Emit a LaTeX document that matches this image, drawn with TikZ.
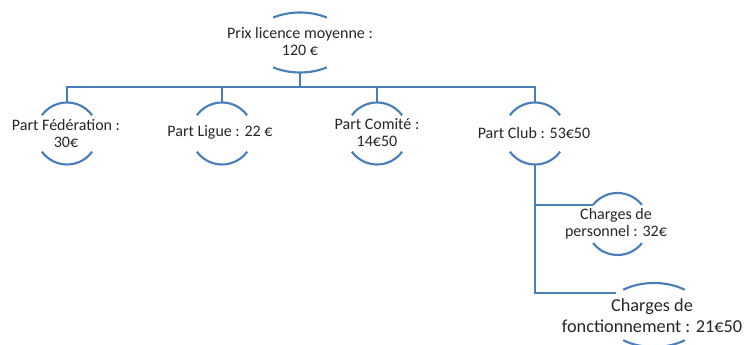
\documentclass[tikz,border=0pt]{standalone}
\usepackage{fontspec}
\setmainfont{Carlito}
\definecolor{ln}{RGB}{74,126,187}
\definecolor{tx}{RGB}{38,38,38}
\newcommand\ringarcs[4]{%
  \draw[arcline] ([shift={(#4:#2 and #3)}]#1) arc[start angle=#4, end angle=180-#4, x radius=#2, y radius=#3];
  \draw[arcline] ([shift={(180+#4:#2 and #3)}]#1) arc[start angle=180+#4, end angle=360-#4, x radius=#2, y radius=#3];
  \coordinate (#1-t) at ([shift={(0,#3)}]#1);
  \coordinate (#1-b) at ([shift={(0,-#3)}]#1);
  \coordinate (#1-l) at ([shift={(180-#4:#2 and #3)}]#1);
}
\tikzset{
  arcline/.style={draw=ln, line width=1.6pt},
  conn/.style={draw=ln, line width=2pt},
  lbl/.style={text=tx, align=center, inner sep=0pt, font=\fontsize{12}{12.75}\selectfont},
  biglbl/.style={text=tx, align=center, inner sep=0pt, font=\fontsize{13.7}{15.75}\selectfont},
}
\begin{document}
\begin{tikzpicture}[x=0.75pt,y=0.75pt]
\useasboundingbox (0,0) rectangle (747,345);
% centres of the rings
\coordinate (top) at (300,302.5);
\coordinate (fed) at (67,211.5);
\coordinate (lig) at (222,211.5);
\coordinate (com) at (377,211.5);
\coordinate (club) at (535,211.5);
\coordinate (pers) at (617.5,121);
\coordinate (fonc) at (654,30);
% rings
\ringarcs{top}{48}{30}{56}
\ringarcs{fed}{31}{31}{36}
\ringarcs{lig}{31}{31}{36}
\ringarcs{com}{31}{31}{36}
\ringarcs{club}{31}{31}{36}
\ringarcs{pers}{31}{31}{38}
\ringarcs{fonc}{50}{32}{52}
% texts
\node[lbl] (topt) at (300,303.5) {Prix licence moyenne :\\120 €};
\node[lbl] (fedt) at (66,211.5) {Part Fédération :\\30€};
\node[lbl] (ligt) at (220,213) {Part Ligue : 22 €};
\node[lbl] (comt) at (377,212.5) {Part Comité :\\14€50};
\node[lbl] (clubt) at (534,212) {Part Club : 53€50};
\node[lbl] (perst) at (616,121.5) {Charges de\\personnel : 32€};
\node[biglbl] (fonct) at (652,29.5) {Charges de\\fonctionnement : 21€50};
% connectors
\coordinate (bus) at (300,258);
\coordinate (fonc-in) at (616,52);
\draw[conn] (top-b) -- (bus);
\draw[conn] (fed-t) -- (fed-t |- bus) -- (club-t |- bus) -- (club-t);
\draw[conn] (lig-t) -- (lig-t |- bus);
\draw[conn] (com-t) -- (com-t |- bus);
\draw[conn] (club-b) |- (fonc-in);
\draw[conn] (club-b |- pers-l) -- (pers-l);
\end{tikzpicture}
\end{document}
